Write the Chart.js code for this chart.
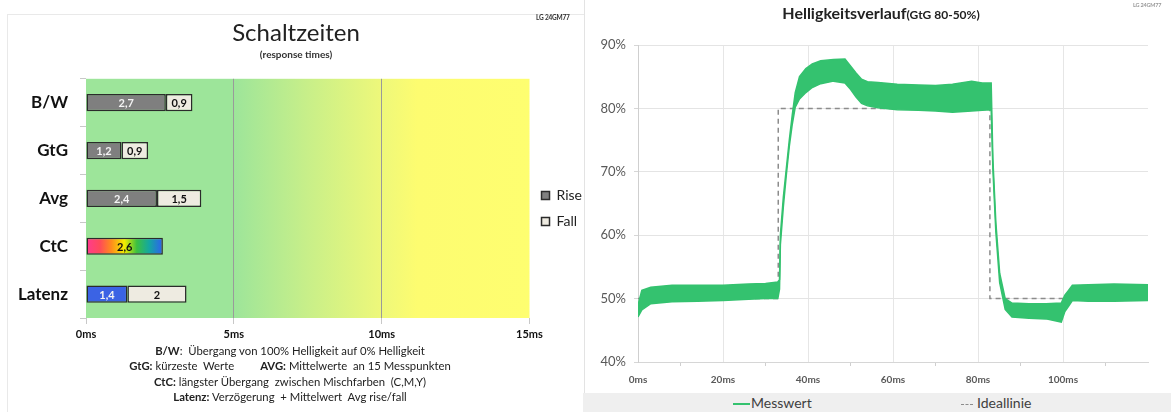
<!DOCTYPE html>
<html lang="de">
<head>
<meta charset="utf-8">
<title>Schaltzeiten / Helligkeitsverlauf</title>
<script src="https://cdn.jsdelivr.net/npm/chart.js@4.4.1/dist/chart.umd.min.js"></script>
<style>
  body { margin: 0; width: 1171px; height: 412px; position: relative; overflow: hidden; background: #fff; font-family: Lato, "Open Sans", sans-serif; color: #222; }
  .abs { position: absolute; }
  #frame_left { left: 7px; top: 14px; width: 577px; height: 398px; border-top: 1px solid #e9e9e9; border-left: 1px solid #e9e9e9; }
  #frame_right { left: 584px; top: 0; width: 0; height: 393px; border-left: 1px solid #e3e3e3; }
  #times_chart { left: 0; top: 0; }
  #curve_chart { left: 583px; top: 0; }
  #notes { left: 0; top: 343px; width: 580px; text-align: center; font-size: 11.3px; line-height: 15.3px; color: #222; }
  #notes .gap { display: inline-block; width: 26px; }
  .model { font-size: 6.5px; font-weight: bold; letter-spacing: -0.2px; }
  #model_left { left: 536px; top: 14px; color: #333; }
  #model_right { left: 1133px; top: 2px; color: #999; font-size: 5.5px; }
  #curve_title { left: 583px; top: 3px; width: 588px; padding-left: 8px; box-sizing: border-box; text-align: center; font-weight: bold; color: #222; }
  #curve_title .big { font-size: 16px; }
  #curve_title .small { font-size: 12px; }
  #curve_legend { left: 583px; top: 393px; width: 588px; height: 19px; background: #efefef; font-size: 14px; color: #404040; }
  .lg_item { position: absolute; top: 1px; line-height: 17px; }
  .lg_line { display: inline-block; width: 17px; vertical-align: middle; margin-right: 1px; }
</style>
</head>
<body>
<div id="frame_left" class="abs"></div>
<div id="frame_right" class="abs"></div>
<canvas id="times_chart" class="abs" width="592" height="345"></canvas>
<div id="model_left" class="abs model">LG 24GM77</div>
<div id="notes" class="abs">
  <div><b>B/W</b>:&nbsp; Übergang von 100% Helligkeit auf 0% Helligkeit</div>
  <div><b>GtG:</b> kürzeste&nbsp; Werte<span class="gap"></span><b>AVG:</b> Mittelwerte&nbsp; an 15 Messpunkten</div>
  <div><b>CtC:</b> längster Übergang&nbsp; zwischen Mischfarben&nbsp; (C,M,Y)</div>
  <div><b>Latenz:</b> Verzögerung&nbsp; + Mittelwert&nbsp; Avg rise/fall</div>
</div>

<canvas id="curve_chart" class="abs" width="588" height="393"></canvas>
<div id="curve_title" class="abs"><span class="big">Helligkeitsverlauf</span><span class="small">(GtG 80-50%)</span></div>
<div id="model_right" class="abs model">LG 24GM77</div>
<div id="curve_legend" class="abs">
  <span class="lg_item" style="left:150px"><span class="lg_line" style="border-top:2px solid #34c26f"></span>Messwert</span>
  <span class="lg_item" style="left:378px"><span class="lg_line" style="border-top:1.5px dashed #8c8c8c;width:12px;margin-right:4px"></span>Ideallinie</span>
</div>

<script>
// LEFT CHART DATA (ms)
const categories = ['B/W', 'GtG', 'Avg', 'CtC', 'Latenz'];
const rise_values = [2.7, 1.2, 2.4, 2.6, 1.4];
const fall_values = [0.9, 0.9, 1.5, null, 2];
const ms_min = 0, ms_max = 15, ms_step = 5;

// RIGHT CHART DATA (time in ms, brightness in %)
const measure_times = [0, 0.9, 3, 8, 14, 20, 26, 30, 32.9, 33.3,
  33.5, 34.2, 34.9, 35.6, 36.3, 37, 38, 39.5, 41, 43,
  46, 48.7, 50, 51.3, 52.6, 54, 56.5, 61, 66, 70,
  74, 78.5, 81, 83.1, 83.5, 84.2, 85.1, 86.4, 88, 92,
  96, 99.6, 100.4, 101.3, 102.2, 106, 112, 120];
const upper_values = [49, 51.3, 51.8, 52.1, 52.1, 52.1, 52.3, 52.4, 52.6, 53,
  60, 66, 70.5, 75, 79, 82.5, 85, 86.3, 87, 87.5,
  87.7, 87.8, 86.7, 85.6, 84.6, 84.2, 84.1, 83.8, 83.7, 83.6,
  83.8, 84.3, 84, 84, 72, 62, 54, 50, 49.3, 49.2,
  49.2, 49.3, 50.5, 51.3, 52.1, 52.2, 52.3, 52.2];
const lower_values = [47.1, 48.2, 49.2, 49.5, 49.6, 49.7, 49.9, 50, 50, 51.5,
  58.5, 64.5, 69.5, 74, 77.5, 80.2, 81.5, 82.5, 83.3, 83.9,
  84.3, 84, 83, 81.8, 80.8, 80.4, 80.1, 79.8, 79.7, 79.6,
  79.4, 79.6, 79.7, 79.8, 70.5, 60.5, 52.5, 48.3, 47.1, 46.9,
  46.8, 46.3, 47.9, 48.8, 49.7, 49.6, 49.6, 49.7];
const ideal_times = [0, 33, 33, 82.8, 82.8, 120];
const ideal_values = [50, 50, 80, 80, 50, 50];
const time_labels = [0, 20, 40, 60, 80, 100];

const GREEN = '#34c26f';

// background: green -> yellow zones
const zoneBackground = {
  id: 'zoneBackground',
  beforeDraw(chart) {
    const {ctx, chartArea: a, scales: {x}} = chart;
    const g = ctx.createLinearGradient(a.left, 0, a.right, 0);
    const stop = v => (x.getPixelForValue(v) - a.left) / a.width;
    g.addColorStop(0, '#9de59a');
    g.addColorStop(stop(5), '#9de59a');
    g.addColorStop(stop(7.5), '#c8ef89');
    g.addColorStop(stop(10), '#eef87a');
    g.addColorStop(stop(11.2), '#fdfc70');
    g.addColorStop(1, '#fefe70');
    ctx.save();
    ctx.fillStyle = g;
    ctx.fillRect(a.left, a.top, a.width, a.height);
    ctx.restore();
  }
};

// values written in the bars, german decimal comma
const barValueLabels = {
  id: 'barValueLabels',
  afterDatasetsDraw(chart) {
    const ctx = chart.ctx;
    ctx.save();
    ctx.font = 'bold 11px Lato';
    ctx.textAlign = 'center';
    ctx.textBaseline = 'middle';
    chart.data.datasets.forEach((ds, i) => {
      chart.getDatasetMeta(i).data.forEach((bar, j) => {
        const v = ds.data[j];
        if (v === null || v === undefined) return;
        ctx.fillStyle = (i === 0 && j !== 3) ? '#f4f4f4' : '#111';
        ctx.fillText(String(v).replace('.', ','), (bar.x + bar.base) / 2, bar.y + 1);
      });
    });
    ctx.restore();
  }
};

function ctcGradient(chart) {
  const {ctx, chartArea, scales} = chart;
  if (!chartArea || !scales.x) return '#ccc';
  const x0 = scales.x.getPixelForValue(0);
  const x1 = scales.x.getPixelForValue(rise_values[3]);
  const g = ctx.createLinearGradient(x0, 0, x1, 0);
  g.addColorStop(0, '#ff3a92');
  g.addColorStop(0.18, '#ff4a5a');
  g.addColorStop(0.33, '#ff8c1c');
  g.addColorStop(0.5, '#f2ee00');
  g.addColorStop(0.66, '#3cc040');
  g.addColorStop(0.82, '#14a8a0');
  g.addColorStop(1, '#2f5ff2');
  return g;
}

const times_chart = new Chart(document.getElementById('times_chart'), {
  type: 'bar',
  data: {
    labels: categories,
    datasets: [{
      label: 'Rise',
      data: rise_values,
      backgroundColor: c => c.dataIndex === 3 ? ctcGradient(c.chart) : (c.dataIndex === 4 ? '#3b63e4' : '#7f7f7f'),
      borderColor: '#2b2b2b',
      borderWidth: 1.5,
      borderSkipped: false,
      barPercentage: 0.72,
      categoryPercentage: 0.5
    }, {
      label: 'Fall',
      data: fall_values,
      backgroundColor: '#eeebe1',
      borderColor: '#2b2b2b',
      borderWidth: 1.5,
      borderSkipped: false,
      barPercentage: 0.72,
      categoryPercentage: 0.5
    }]
  },
  options: {
    indexAxis: 'y',
    responsive: false,
    devicePixelRatio: 1,
    animation: false,
    layout: { padding: { left: 0, right: 0, top: 0, bottom: 0 } },
    plugins: {
      title: {
        display: true,
        text: 'Schaltzeiten',
        color: '#222',
        font: { family: 'Lato', size: 24, weight: 'normal' },
        padding: { top: 19, bottom: 0 }
      },
      subtitle: {
        display: true,
        text: '(response times)',
        color: '#333',
        font: { family: 'Lato', size: 10, weight: 'bold' },
        padding: { top: 1, bottom: 18 }
      },
      legend: {
        position: 'right',
        // empty title only pushes the two items down to the middle of the bars
        title: { display: true, text: ' ', padding: { top: 30, bottom: 30 }, font: { size: 10 } },
        labels: {
          boxWidth: 8,
          boxHeight: 8,
          padding: 12,
          color: '#222',
          font: { family: 'Lato', size: 14 }
        }
      },
      tooltip: { enabled: false }
    },
    scales: {
      x: {
        type: 'linear',
        stacked: true,
        min: ms_min,
        max: ms_max,
        afterFit: s => { s.height = 27; },
        ticks: {
          stepSize: ms_step,
          padding: 4,
          color: '#111',
          font: { family: 'Lato', size: 11, weight: 'bold' },
          callback: v => v + 'ms'
        },
        grid: {
          color: c => (c.tick && (c.tick.value === 5 || c.tick.value === 10)) ? '#9a9a9a' : 'rgba(0,0,0,0)',
          tickColor: '#c8c8c8',
          tickLength: 6,
          lineWidth: 1
        },
        border: { display: false }
      },
      y: {
        stacked: true,
        afterFit: s => { s.width = 86; },
        ticks: {
          padding: 12,
          color: '#111',
          font: { family: 'Lato', size: 17, weight: 'bold' }
        },
        grid: {
          offset: true,
          drawOnChartArea: false,
          tickColor: '#c8c8c8',
          tickLength: 6
        },
        border: { display: false }
      }
    }
  },
  plugins: [zoneBackground, barValueLabels]
});

// RIGHT CHART
const pts = (xs, ys) => xs.map((t, i) => ({ x: t, y: ys[i] }));

const curve_chart = new Chart(document.getElementById('curve_chart'), {
  type: 'line',
  data: {
    datasets: [{
      label: 'Messwert',
      data: pts(measure_times, upper_values),
      borderColor: GREEN,
      backgroundColor: GREEN,
      borderWidth: 1.5,
      pointRadius: 0,
      fill: '+1',
      order: 1
    }, {
      label: 'Messwert (min)',
      data: pts(measure_times, lower_values),
      borderColor: GREEN,
      backgroundColor: GREEN,
      borderWidth: 1.5,
      pointRadius: 0,
      fill: false,
      order: 1
    }, {
      label: 'Ideallinie',
      data: pts(ideal_times, ideal_values),
      borderColor: '#8c8c8c',
      borderDash: [5, 4],
      borderWidth: 1.5,
      pointRadius: 0,
      fill: false,
      order: 2
    }]
  },
  options: {
    responsive: false,
    devicePixelRatio: 1,
    animation: false,
    layout: { padding: { left: 0, right: 23, top: 45, bottom: 0 } },
    plugins: {
      legend: { display: false },
      tooltip: { enabled: false }
    },
    scales: {
      x: {
        type: 'linear',
        min: 0,
        max: 120,
        afterFit: s => { s.height = 31; },
        ticks: {
          stepSize: 10,
          autoSkip: false,
          maxRotation: 0,
          padding: 8,
          color: '#595959',
          font: { family: 'Lato', size: 10, weight: 'bold' },
          callback: v => time_labels.includes(v) ? v + 'ms' : ''
        },
        grid: {
          color: c => (c.tick && c.tick.value % 20 === 0 && c.tick.value > 0 && c.tick.value < 120) ? '#e6e6e6' : 'rgba(0,0,0,0)',
          tickColor: c => (c.tick && c.tick.value % 20 === 10) ? '#cfcfcf' : 'rgba(0,0,0,0)',
          tickLength: 4
        },
        border: { display: true, color: '#d6d6d6' }
      },
      y: {
        min: 40,
        max: 90,
        afterFit: s => { s.width = 55; },
        ticks: {
          stepSize: 10,
          padding: 8,
          color: '#595959',
          font: { family: 'Lato', size: 13 },
          callback: v => v + '%'
        },
        grid: {
          color: '#e4e4e4',
          tickColor: '#d6d6d6',
          tickLength: 4
        },
        border: { display: true, color: '#cfcfcf' }
      }
    }
  }
});
</script>
</body>
</html>
